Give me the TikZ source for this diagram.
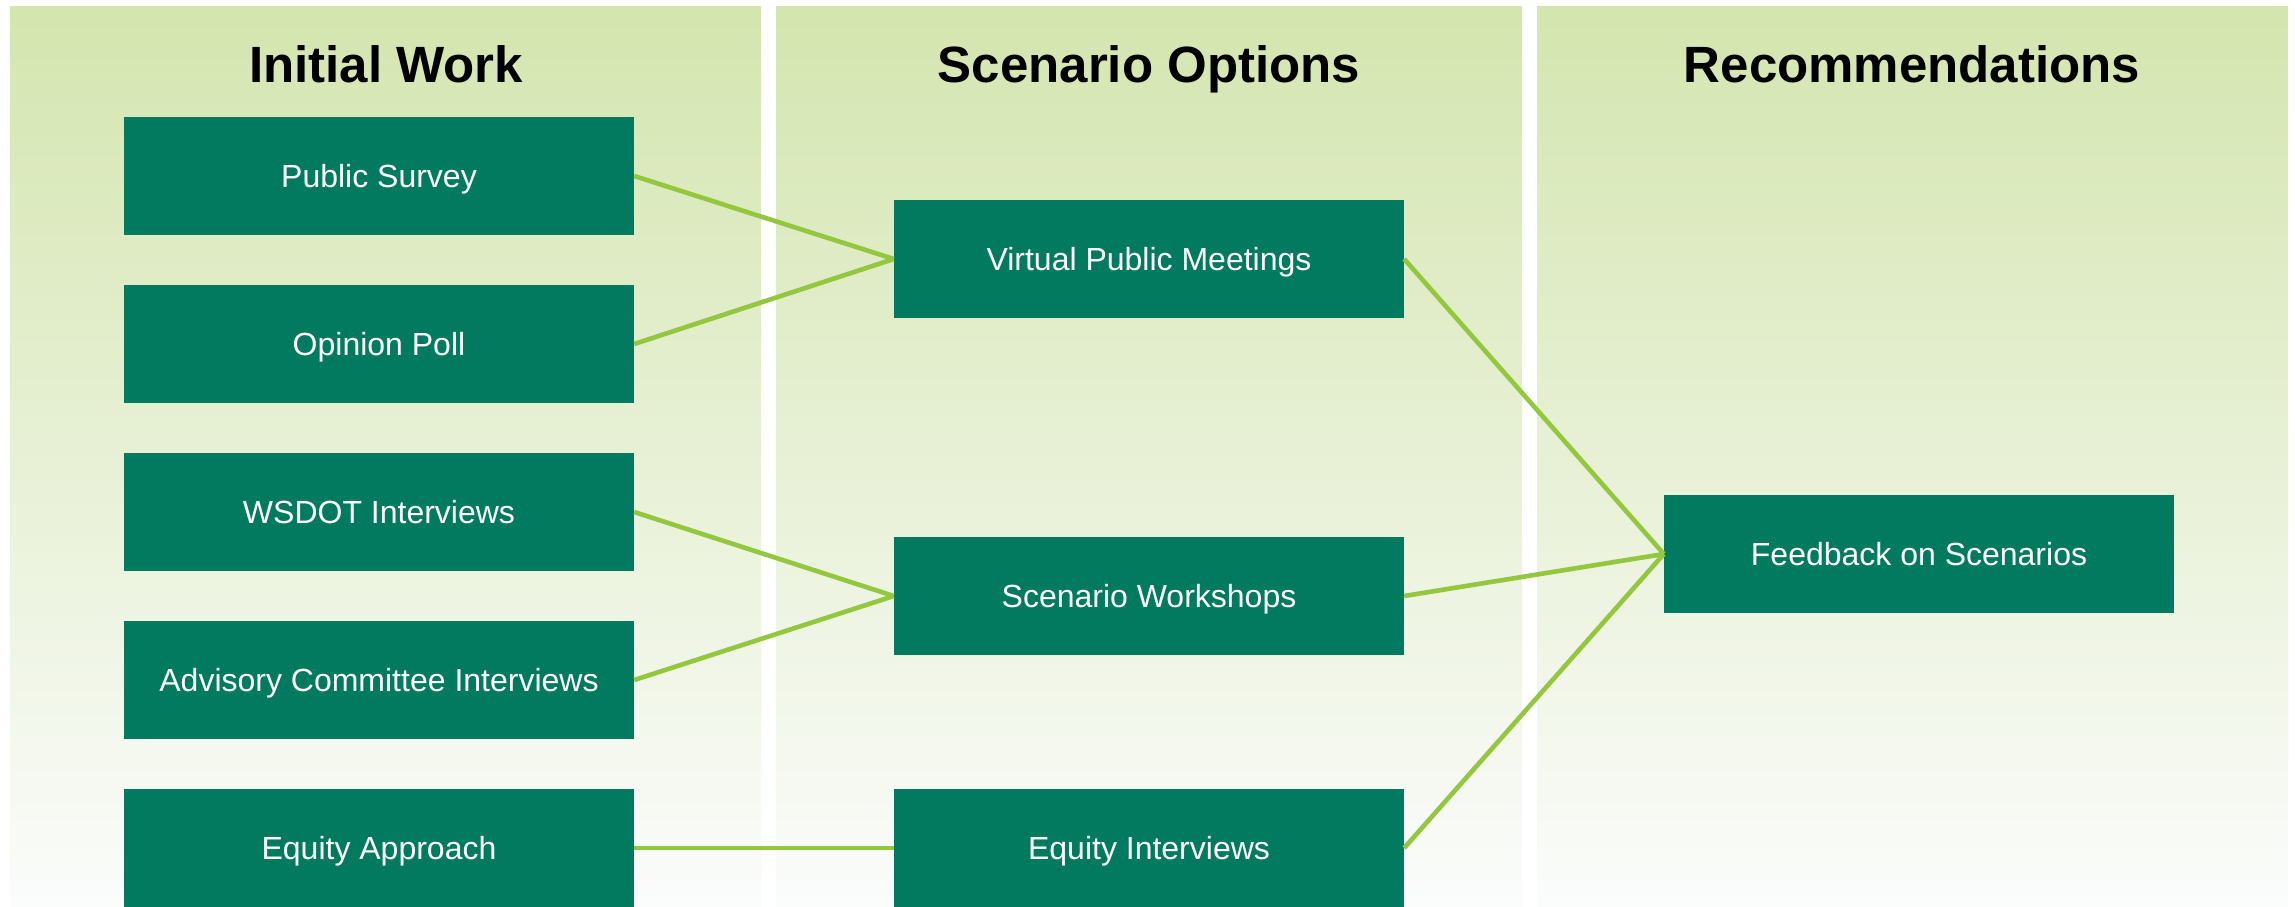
\documentclass[tikz,border=0pt]{standalone}
\usepackage{fontspec}
\setmainfont{Liberation Sans}
\definecolor{boxgreen}{RGB}{2,122,95}
\definecolor{linegreen}{RGB}{146,199,62}
\definecolor{paneltop}{RGB}{212,229,175}
\definecolor{panelbot}{RGB}{251,252,252}
\begin{document}
\begin{tikzpicture}[x=1pt,y=-1pt,
  panel/.style={top color=paneltop,bottom color=panelbot,draw=none},
  header/.style={anchor=base,font=\fontsize{51}{60}\selectfont\bfseries,text=black,inner sep=0},
  stepbox/.style={fill=boxgreen,draw=none,minimum width=510pt,minimum height=118pt,inner sep=0,text=white,text height=23pt,text depth=1pt,font=\fontsize{32}{38}\selectfont},
  conn/.style={draw=linegreen,line width=4.6pt}]
\useasboundingbox (0,0) rectangle (2295,907);
\fill[white] (0,0) rectangle (2295,907);
\shade[panel] (10,7) rectangle (761,907);
\shade[panel] (776,7) rectangle (1522,907);
\shade[panel] (1537,7) rectangle (2288,907);
\node[header] (h1) at (386,82) {Initial Work};
\node[header] (h2) at (1149,82) {Scenario Options};
\node[header] (h3) at (1912,82) {Recommendations};
\node[stepbox] (ps) at (379,176) {Public Survey};
\node[stepbox] (op) at (379,344) {Opinion Poll};
\node[stepbox] (ws) at (379,512) {WSDOT Interviews};
\node[stepbox] (ac) at (379,680) {Advisory Committee Interviews};
\node[stepbox] (ea) at (379,848) {Equity Approach};
\node[stepbox] (vpm) at (1149,259) {Virtual Public Meetings};
\node[stepbox] (sw) at (1149,596) {Scenario Workshops};
\node[stepbox] (ei) at (1149,848) {Equity Interviews};
\node[stepbox] (fb) at (1919,554) {Feedback on Scenarios};
\draw[conn] (ps.east) -- (vpm.west);
\draw[conn] (op.east) -- (vpm.west);
\draw[conn] (ws.east) -- (sw.west);
\draw[conn] (ac.east) -- (sw.west);
\draw[conn] (ea.east) -- (ei.west);
\draw[conn] (vpm.east) -- (fb.west);
\draw[conn] (sw.east) -- (fb.west);
\draw[conn] (ei.east) -- (fb.west);
\end{tikzpicture}
\end{document}
